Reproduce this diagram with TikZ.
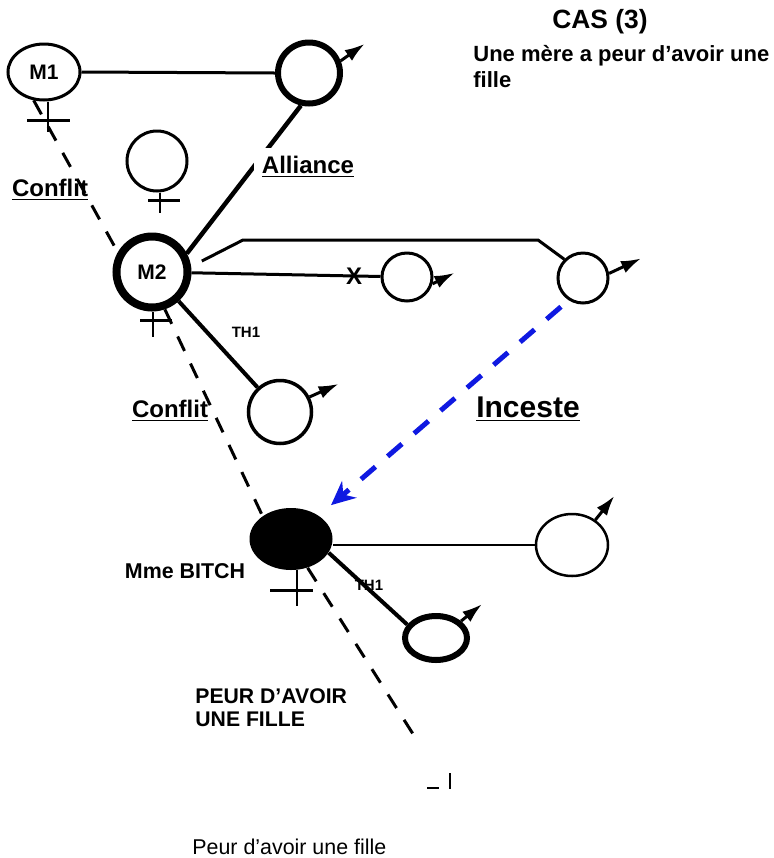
\documentclass[tikz,border=0pt]{standalone}
\usepackage{fontspec}
\setsansfont{Liberation Sans}
\usepackage{xcolor}
\usepackage{tikz}
\usetikzlibrary{shapes,arrows.meta,calc}
\definecolor{incblue}{RGB}{15,25,225}

\begin{document}
\begin{tikzpicture}[x=0.5pt,y=-0.5pt,
  pers/.style={ellipse,draw,inner sep=0pt,font=\sffamily\bfseries\fontsize{10.5}{12}\selectfont},
  lien/.style={line width=1.5pt},
  croix/.style={line width=1.1pt},
  conflit/.style={line width=1.5pt,dash pattern=on 8pt off 7pt},
  fleche/.style={line width=1.5pt,-{Latex[length=10pt,width=6.5pt]}},
  lab/.style={font=\sffamily\bfseries\fontsize{12}{14}\selectfont},
  petit/.style={font=\sffamily\bfseries\fontsize{7.5}{9}\selectfont}]
\useasboundingbox (0,0) rectangle (773,858);

\node[pers,line width=1.5pt,minimum width=36pt,minimum height=28pt] (m1) at (44,72) {M1};
\node[pers,line width=3pt,minimum width=31pt,minimum height=30.5pt] (hm1) at (309,73) {};
\node[pers,line width=1.5pt,minimum size=30pt] (f0) at (157,161) {};
\node[pers,line width=4pt,minimum size=35.5pt] (m2) at (152,272) {M2};
\node[pers,line width=1.5pt,minimum size=25pt] (h2a) at (583,278) {};
\node[pers,line width=1.5pt,minimum width=25pt,minimum height=24pt] (h2b) at (407,277) {};
\node[pers,line width=1.75pt,minimum size=31.5pt] (th1) at (280,412) {};
\node[ellipse,fill=black,inner sep=0pt,minimum width=41.5pt,minimum height=31pt] (bitch) at (291,539) {};
\node[pers,line width=1.25pt,minimum width=36pt,minimum height=31pt] (h3) at (572,545) {};
\node[pers,line width=3pt,minimum width=31pt,minimum height=22pt] (th2) at (436,638) {};
\coordinate (b1) at (243,240);
\coordinate (b2) at (538,240);
\coordinate (fin) at (420,745);

\draw[croix] (m1.south) ++(4,0) -- ++(0,30) ++(-21,-11) -- ++(43,0);
\draw[croix] (f0.south) ++(3,0) -- ++(0,20) ++(-12,-12) -- ++(32,0);
\draw[croix] (m2.south) ++(1,0) -- ++(0,25) ++(-13,-16) -- ++(32,0);
\draw[croix] (bitch.south) ++(6,0) -- ++(0,36) ++(-27,-16) -- ++(43,0);

\draw[lien] (m1.east) -- (hm1.west);
\draw[lien,line width=2.25pt] (hm1.256) -- (m2.28);
\node[lab,fill=white,inner sep=4pt] (all) at (308,167) {\underline{Alliance}};
\draw[lien,shorten <=6pt] (m2.8) -- (b1) -- (b2) -- (h2a.135);
\draw[lien] (m2) -- node[lab,pos=.86,font=\sffamily\bfseries\fontsize{12}{14}\selectfont] (x) {X} (h2b);
\draw[lien,line width=2pt] (m2) -- (th1);
\draw[lien,line width=1.25pt] (bitch.east |- h3.west) -- (h3.west);
\draw[lien,line width=2pt] (bitch.-20) -- (th2.155);

\draw[conflit] (m1.250) -- (m2.150);
\draw[conflit] (m2.289) -- (bitch.141);
\draw[conflit] (bitch.300) -- (fin);
\draw[line width=1.2pt] (427,788) -- (439,788) (450,773) -- (450,789);

\draw[incblue,line width=2.5pt,dash pattern=on 9.5pt off 8pt,shorten <=5pt,shorten >=8pt,
  -{Stealth[length=12pt,width=11pt]}] (h2a.237) -- (bitch.40);

\draw[fleche] (hm1.21) -- ++(24,-17);
\draw[fleche] (h2a.10) -- ++(32,-15);
\draw[fleche] (h2b.-15) -- ++(22,-11);
\draw[fleche] (th1.27) -- ++(29,-13);
\draw[fleche] (h3.47) -- ++(19,-24);
\draw[fleche] (th2.34) -- ++(21,-17);

\node[petit] (t1) at (246,332) {TH1};
\node[petit] (t2) at (369,585) {TH1};
\node[lab] (c1) at (50,190) {\underline{Conflit}};
\node[lab] (c2) at (170,411) {\underline{Conflit}};
\node[lab,font=\sffamily\bfseries\fontsize{15}{18}\selectfont] (inc) at (528,409) {\underline{Inceste}};
\node[lab,font=\sffamily\bfseries\fontsize{10.7}{13}\selectfont] (mme) at (185,571) {Mme BITCH};
\node[lab,font=\sffamily\bfseries\fontsize{13.2}{15}\selectfont] (cas) at (600,22) {CAS (3)};
\node[anchor=north west,align=left,inner sep=0pt,font=\sffamily\bfseries\fontsize{11}{13}\selectfont] (titre) at (473,45) {Une mère a peur d'avoir une\\fille};
\node[anchor=west,align=left,inner sep=0pt,font=\sffamily\bfseries\fontsize{10.6}{11.5}\selectfont] (peur) at (195,708) {PEUR D'AVOIR\\UNE FILLE};
\node[anchor=west,inner sep=0pt,font=\sffamily\fontsize{10.7}{13}\selectfont] (bas) at (192,847) {Peur d'avoir une fille};
\end{tikzpicture}
\end{document}
